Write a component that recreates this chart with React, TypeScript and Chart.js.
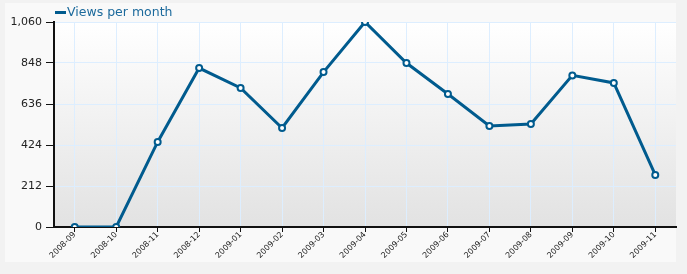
import React, { useEffect, useRef } from "react";
import { Chart, registerables } from "chart.js";

Chart.register(...registerables);

const categories = [
  "2008-09", "2008-10", "2008-11", "2008-12", "2009-01", "2009-02", "2009-03",
  "2009-04", "2009-05", "2009-06", "2009-07", "2009-08", "2009-09", "2009-10", "2009-11",
];
const views = [0, 0, 440, 822, 719, 512, 801, 1060, 848, 688, 522, 533, 784, 745, 269];
const seriesName = "Views per month";
const yMax = 1060;
const yStep = 212;

const LINE = "#005b8e";
const FONT = "'DejaVu Sans', Verdana, sans-serif";

const bgPlugin = {
  id: "plotBg",
  beforeDraw(chart: any) {
    const { ctx, chartArea } = chart;
    if (!chartArea) return;
    const g = ctx.createLinearGradient(0, chartArea.top, 0, chartArea.bottom);
    g.addColorStop(0, "#ffffff");
    g.addColorStop(1, "#e2e2e2");
    ctx.save();
    ctx.fillStyle = g;
    ctx.fillRect(chartArea.left, chartArea.top, chartArea.right - chartArea.left, chartArea.bottom - chartArea.top);
    ctx.restore();
  },
};

const legendPlugin = {
  id: "customLegend",
  afterDraw(chart: any) {
    const { ctx, chartArea } = chart;
    const x = chartArea.left + 1;
    const y = 12;
    ctx.save();
    ctx.strokeStyle = LINE;
    ctx.lineWidth = 3;
    ctx.beginPath();
    ctx.moveTo(x, y + 0.5);
    ctx.lineTo(x + 11, y + 0.5);
    ctx.stroke();
    ctx.fillStyle = "#1c6a9c";
    ctx.font = `12.5px ${FONT}`;
    ctx.textBaseline = "middle";
    ctx.fillText(chart.data.datasets[0].label, x + 12, y + 1);
    ctx.restore();
  },
};

export default function App() {
  const ref = useRef<HTMLCanvasElement>(null);
  useEffect(() => {
    document.body.style.margin = "0";
    document.body.style.background = "#f2f2f2";
    const chart = new Chart(ref.current!, {
      type: "line",
      data: {
        labels: categories,
        datasets: [
          {
            label: seriesName,
            data: views,
            borderColor: LINE,
            borderWidth: 3,
            pointRadius: 3,
            pointBorderWidth: 2,
            pointBackgroundColor: "#ffffff",
            pointBorderColor: LINE,
            tension: 0,
          },
        ],
      },
      plugins: [bgPlugin, legendPlugin],
      options: {
        animation: false,
        responsive: false,
        maintainAspectRatio: false,
        layout: { padding: { top: 22, right: 11, left: 0, bottom: 0 } },
        plugins: { legend: { display: false }, tooltip: { enabled: false } },
        scales: {
          x: {
            offset: true,
            afterFit: (s: any) => { s.height = 47; },
            grid: { offset: false, color: "#ddeeff", tickColor: "#111", tickLength: 5, lineWidth: 1 },
            border: { color: "#111", width: 2 },
            ticks: {
              minRotation: 45,
              maxRotation: 45,
              autoSkip: false,
              padding: -2,
              color: "#222",
              font: { family: FONT, size: 8 },
            },
          },
          y: {
            min: 0,
            max: yMax,
            afterFit: (s: any) => { s.width = 54; },
            grid: { color: "#ddeeff", tickColor: "#111", tickLength: 8, lineWidth: 1 },
            border: { color: "#111", width: 2 },
            ticks: {
              stepSize: yStep,
              padding: 4,
              color: "#222",
              font: { family: FONT, size: 11 },
            },
          },
        },
      },
    });
    return () => chart.destroy();
  }, []);
  return (
    <div style={{ position: "relative", width: 687, height: 274 }}>
      <div style={{ position: "absolute", left: 5, top: 3, width: 671, height: 259, background: "#f9f9f9" }} />
      <canvas ref={ref} width={687} height={274} style={{ position: "absolute", left: 0, top: 0 }} />
    </div>
  );
}
